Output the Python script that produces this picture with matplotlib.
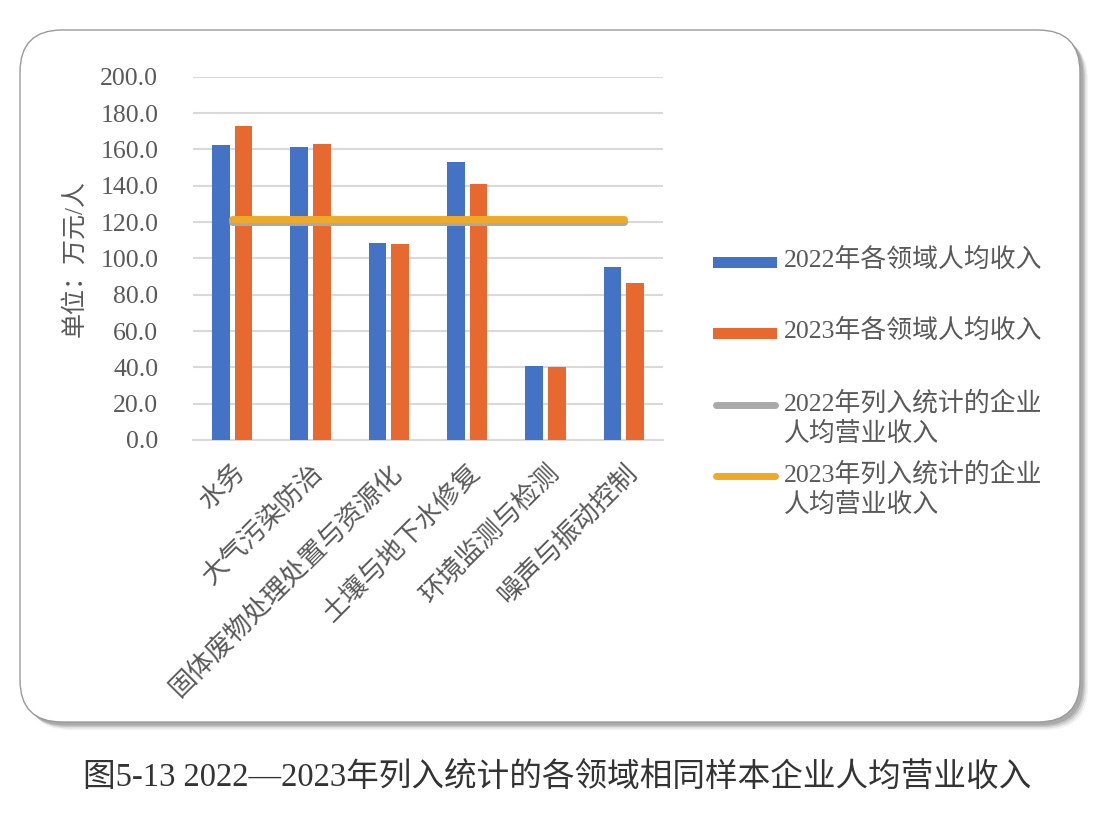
import matplotlib.pyplot as plt
from matplotlib.patches import FancyBboxPatch

plt.rcParams['font.family'] = ['Liberation Serif', 'Noto Sans CJK SC']

categories = ['水务', '大气污染防治', '固体废物处理处置与资源化', '土壤与地下水修复', '环境监测与检测', '噪声与振动控制']
income_2022 = [162.4, 161.3, 108.3, 153.0, 40.7, 95.4]
income_2023 = [173.0, 162.8, 107.7, 140.9, 40.0, 86.6]
avg_2022 = 119.8
avg_2023 = 121.6
yticks = [0, 20, 40, 60, 80, 100, 120, 140, 160, 180, 200]

series_labels = ['2022年各领域人均收入', '2023年各领域人均收入',
                 '2022年列入统计的企业\n人均营业收入', '2023年列入统计的企业\n人均营业收入']
caption = '图5-13 2022—2023年列入统计的各领域相同样本企业人均营业收入'

BLUE = '#4472C4'
ORANGE = '#E8692F'
GRAY = '#A9A9A9'
GOLD = '#EFA927'
TEXT = '#595959'

W, H = 1114, 817
fig = plt.figure(figsize=(W / 100, H / 100), dpi=100)

# background frame in pixel coordinates
bg = fig.add_axes([0, 0, 1, 1], zorder=0)
bg.set_xlim(0, W)
bg.set_ylim(H, 0)
bg.axis('off')
for i, a in enumerate([0.10, 0.18, 0.30, 0.45]):
    off = 8 - i * 1.5
    bg.add_patch(FancyBboxPatch((20 + off, 30 + off), 1060, 692,
                                boxstyle='round,pad=0,rounding_size=42',
                                facecolor='#8a8a8a', edgecolor='none', alpha=a))
bg.add_patch(FancyBboxPatch((20, 30), 1060, 692,
                            boxstyle='round,pad=0,rounding_size=42',
                            facecolor='white', edgecolor='#9a9a9a', linewidth=1.0))

# manual legend (pixel positions)
bg.add_patch(plt.Rectangle((713, 256.5), 64, 11, facecolor=BLUE, edgecolor='none'))
bg.add_patch(plt.Rectangle((713, 327.5), 64, 11, facecolor=ORANGE, edgecolor='none'))
bg.plot([716, 775], [405, 405], color=GRAY, lw=5, solid_capstyle='round')
bg.plot([716, 775], [476, 476], color=GOLD, lw=5, solid_capstyle='round')
for lbl, y in zip(series_labels, [262, 333, 405, 476]):
    bg.text(784, y - 14, lbl, fontsize=18.6, color=TEXT, va='top', ha='left', linespacing=1.3)

bg.text(W / 2, 777, caption, fontsize=23.5, color='#333333', ha='center', va='center')

# chart
ax = fig.add_axes([193 / W, 1 - 440 / H, 470 / W, (440 - 76.7) / H], zorder=1)
ax.patch.set_alpha(0)
x = list(range(len(categories)))
w = 0.225
ax.bar([i - 0.143 for i in x], income_2022, width=w, color=BLUE, zorder=3)
ax.bar([i + 0.143 for i in x], income_2023, width=w, color=ORANGE, zorder=3)
ax.plot(x, [avg_2022] * len(x), color=GRAY, lw=5, solid_capstyle='round', zorder=4)
ax.plot(x, [avg_2023] * len(x), color=GOLD, lw=5, solid_capstyle='round', zorder=5)

ax.set_xlim(-0.5, len(categories) - 0.5)
ax.set_ylim(0, 200)
ax.set_yticks(yticks)
ax.set_yticklabels([f'{v:.1f}' for v in yticks], fontsize=18.5, color=TEXT)
ax.yaxis.grid(True, color='#D9D9D9', lw=1.5, zorder=0)
ax.set_axisbelow(True)
for s in ['top', 'right', 'left']:
    ax.spines[s].set_visible(False)
ax.spines['bottom'].set_color('#D9D9D9')
ax.spines['bottom'].set_linewidth(1.5)
ax.tick_params(axis='both', length=0)
ax.tick_params(axis='y', pad=25)
ax.set_xticks(x)
ax.set_xticklabels(categories, rotation=45, ha='right', va='top', rotation_mode='anchor',
                   fontsize=19, color=TEXT)
ax.tick_params(axis='x', pad=14)
ax.set_ylabel('单位：万元/人', fontsize=18, color=TEXT, labelpad=10)

fig.savefig('out.png', dpi=100)
